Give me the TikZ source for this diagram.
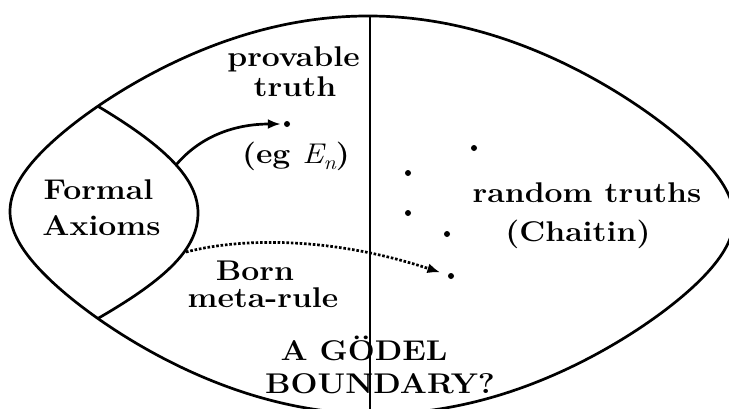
\documentclass[tikz,border=0pt]{standalone}
\usepackage{fontspec}
\usetikzlibrary{arrows.meta}
\newcommand\wx[1]{\scalebox{1.12}[1]{#1}}
\newcommand\subn{\raisebox{-0.22em}{\fontsize{20}{20}\selectfont\mdseries\itshape n}}
\tikzset{
  curve/.style={line width=2.7pt, line join=round},
  dotpt/.style={circle, fill=black, inner sep=0pt, minimum size=6pt},
  lbl/.style={anchor=base, inner sep=0pt, font=\bfseries\addfontfeatures{FakeBold=0.8}\fontsize{28.5}{34}\selectfont},
  solidarrow/.style={line width=2.7pt, -{Latex[length=13pt,width=10pt]}, shorten >=3pt},
  dotarrow/.style={line width=2.7pt, dash pattern=on 2.6pt off 1.8pt, -{Latex[length=13pt,width=10pt]}, shorten >=8pt},
}
\begin{document}
\begin{tikzpicture}[x=1pt,y=-1pt]
\useasboundingbox (0,0) rectangle (729,408);
% outer lens-shaped boundary
\draw[curve] plot[variable=\t, domain=0:358, samples=180, smooth cycle]
  ({372+362*cos(\t)},{215+3.5*cos(\t)+199*sin(\t)*(1-0.32*cos(\t)^2)});
% vertical boundary
\coordinate (vtop) at (370,16);
\coordinate (vbot) at (370,415);
\draw[curve] (vtop) -- (vbot);
% inner axioms region
\coordinate (jt) at (98,106.3);
\coordinate (jm) at (198,213);
\coordinate (jb) at (98,318.4);
\draw[curve] (jt) .. controls (168,148) and (198,180) .. (jm) .. controls (198,248) and (168,278) .. (jb);
% dots
\node[dotpt] (en) at (287,124) {};
\node[dotpt] (d1) at (474,148) {};
\node[dotpt] (d2) at (408,173) {};
\node[dotpt] (d3) at (408,213) {};
\node[dotpt] (d4) at (447,234) {};
\node[dotpt] (d5) at (451,276) {};
% arrows
\coordinate (s1) at (176,165);
\coordinate (s2) at (186,252);
\draw[solidarrow] (s1) .. controls (203,133) and (240,124) .. (en);
\draw[dotarrow] (s2) .. controls (240,238) and (330,236) .. (d5);
% labels
\node[lbl] (t1) at (293.5,66.5) {\wx{provable}};
\node[lbl] (t2) at (295,96) {\wx{truth}};
\node[lbl] (t3) at (296,163) {\wx{(eg {\mdseries\itshape E}\subn)}};
\node[lbl] (t4) at (98.5,199.5) {\wx{Formal}};
\node[lbl] (t5) at (101.5,235) {\wx{Axioms}};
\node[lbl] (t6) at (587,202) {\wx{random truths}};
\node[lbl] (t7) at (578,241) {\wx{(Chaitin)}};
\node[lbl] (t8) at (255,280) {\wx{Born}};
\node[lbl] (t9) at (263,307) {\wx{meta-rule}};
\node[lbl] (t10) at (364,360) {\wx{A GÖDEL}};
\node[lbl] (t11) at (380,393) {\wx{BOUNDARY?}};
\end{tikzpicture}
\end{document}
